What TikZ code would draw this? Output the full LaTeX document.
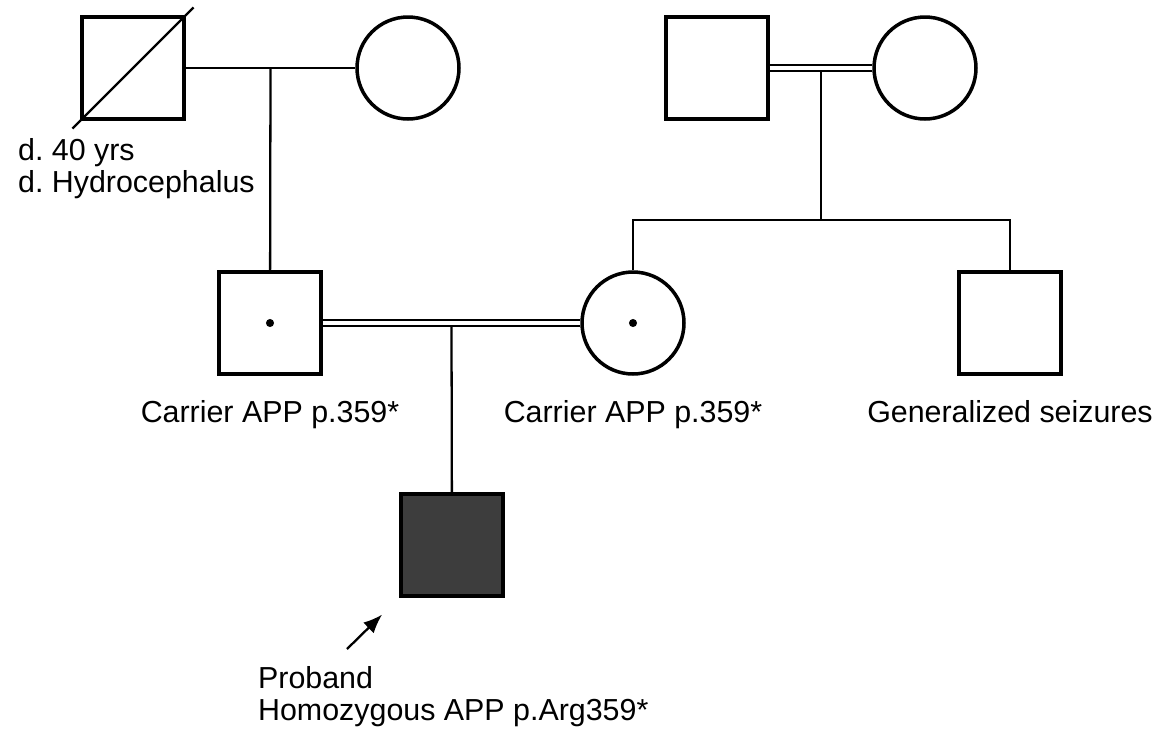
\documentclass[tikz,border=0pt]{standalone}
\usepackage{fontspec}
\setmainfont{Liberation Sans}
\usetikzlibrary{arrows.meta}

\begin{document}
\frenchspacing
\begin{tikzpicture}[x=0.02cm,y=-0.02cm,line width=1.3pt,
    >={Latex[length=0.38cm,width=0.3cm]},
    male/.style={draw,line width=2pt,minimum size=2.04cm,inner sep=0pt},
    female/.style={male,circle},
    lbl/.style={font=\fontsize{17.3}{18.2}\selectfont,inner sep=0pt,align=left},
    consang/.style={double,double distance=0.08cm}]
  \useasboundingbox (0,0) rectangle (1173,731);

  % grandparents
  \node[male] (GF1) at (133,68) {};
  \node[female] (GM1) at (408,68) {};
  \node[male] (GF2) at (717,68) {};
  \node[female] (GM2) at (925,68) {};
  \draw[shorten <=-0.22cm,shorten >=-0.22cm] (GF1.south west) -- (GF1.north east);

  % parents and uncle
  \node[male] (Fa) at (270,323) {};
  \node[female] (Mo) at (633,323) {};
  \node[male] (Un) at (1010,323) {};
  \fill (Fa.center) circle (2.3pt);
  \fill (Mo.center) circle (2.3pt);

  % proband
  \node[male,fill=black!76] (P) at (452,545) {};

  % lines
  \draw (GF1) -- (GM1) coordinate[midway] (m1);
  \draw (m1) -- (Fa);
  \draw[consang] (GF2) -- (GM2) coordinate[midway] (m2);
  \coordinate (sib) at (m2 |- 0,220);
  \draw (m2) ++(0,4) -- (sib);
  \draw (Mo.north) |- (sib) -| (Un.north);
  \draw[consang] (Fa) -- (Mo) coordinate[midway] (m3);
  \draw (m3) ++(0,4) -- (P);

  \coordinate (pa) at (347,649);
  \draw[->,shorten >=0.48cm] (pa) -- (P.south west);

  % labels
  \node[lbl,anchor=base west] (tGF1) at (17,192) {d. 40 yrs\\d. Hydrocephalus};
  \node[lbl,anchor=base] (tFa) at (270,422) {Carrier APP p.359*};
  \node[lbl,anchor=base] (tMo) at (633,422) {Carrier APP p.359*};
  \node[lbl,anchor=base] (tUn) at (1010,422) {Generalized seizures};
  \node[lbl,anchor=base west] (tP) at (257,720) {Proband\\Homozygous APP p.Arg359*};
\end{tikzpicture}
\end{document}
